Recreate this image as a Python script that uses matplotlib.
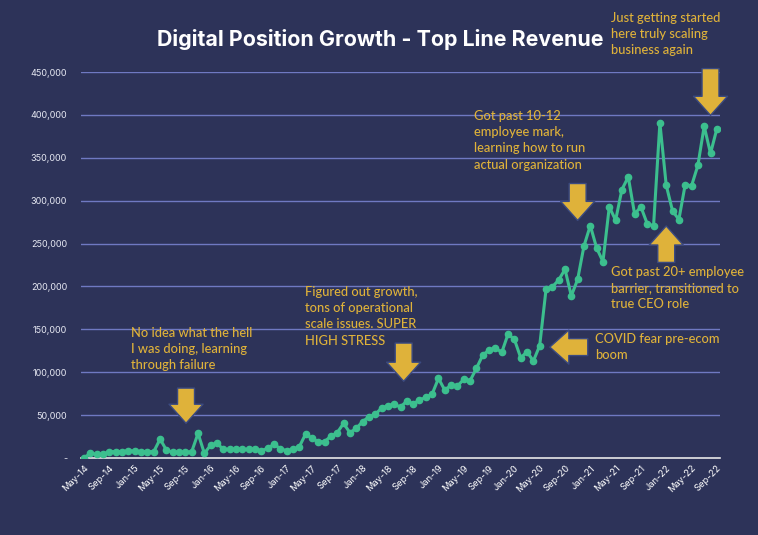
import matplotlib
matplotlib.use("Agg")
import matplotlib.pyplot as plt
from matplotlib.patches import FancyArrowPatch, ArrowStyle

# monthly top line revenue, May-14 .. Sep-22
revenue = [
    500, 5400, 4300, 4300, 7400, 7400, 7400, 8500, 8000, 7400,
    7400, 7400, 22000, 9300, 6600, 6600, 6600, 7400, 28700, 5400,
    15100, 17100, 10100, 10100, 10100, 10100, 10100, 10100, 8500, 11300,
    16000, 11000, 8500, 10000, 13000, 28000, 23000, 19000, 19000, 25600,
    29500, 40400, 29500, 34600, 42300, 48000, 51000, 58000, 61000, 62500,
    59500, 66400, 63000, 67600, 70700, 74500, 92800, 79200, 85000, 83900,
    91700, 90100, 104500, 120000, 125800, 128500, 123000, 144500, 138300, 116900,
    123900, 113000, 131000, 196500, 199600, 207400, 220000, 189000, 208200, 247200,
    271000, 244800, 229000, 292800, 277300, 313000, 327700, 284500, 292800, 273000,
    271000, 390600, 318000, 288000, 278000, 318800, 317300, 341000, 386800, 355000,
    383700,
]

tick_labels = [
    "May-14", "Sep-14", "Jan-15", "May-15", "Sep-15", "Jan-16", "May-16",
    "Sep-16", "Jan-17", "May-17", "Sep-17", "Jan-18", "May-18", "Sep-18",
    "Jan-19", "May-19", "Sep-19", "Jan-20", "May-20", "Sep-20", "Jan-21",
    "May-21", "Sep-21", "Jan-22", "May-22", "Sep-22",
]

y_ticks = [0, 50000, 100000, 150000, 200000, 250000, 300000, 350000, 400000, 450000]

bg = "#2d3359"
gold = "#dfb23a"
teal = "#3cbf8e"
grid_c = "#6f79c2"

W, H = 758, 535
fig = plt.figure(figsize=(W / 100, H / 100), dpi=100, facecolor=bg)
ax = fig.add_axes([81 / W, 1 - 458 / H, (720 - 81) / W, (458 - 72) / H])
ax.set_facecolor(bg)

x = list(range(len(revenue)))
ax.plot(x, revenue, color=teal, lw=2.2, marker="o", ms=4.5, zorder=3)

ax.set_xlim(-0.5, len(revenue) - 0.5)
ax.set_ylim(0, 450000)
ax.set_yticks(y_ticks)
ax.set_yticklabels(["-" if v == 0 else f"{v:,}" for v in y_ticks],
                   color="#e6e8f2", fontsize=6.5, family="Inter")
ax.set_xticks(range(0, len(revenue), 4))
ax.set_xticklabels(tick_labels, rotation=45, ha="right", rotation_mode="anchor",
                   color="white", fontsize=6.7, family="Inter")
ax.tick_params(length=0, pad=10)
ax.tick_params(axis="x", pad=4)

for v in y_ticks[1:]:
    ax.axhline(v, color=grid_c, lw=1, zorder=1)
for s in ["top", "right", "left"]:
    ax.spines[s].set_visible(False)
ax.spines["bottom"].set_color("#e8e8e8")
ax.spines["bottom"].set_linewidth(1.2)

fig.text(380 / W, 1 - 40 / H, "Digital Position Growth - Top Line Revenue",
         ha="center", va="center", color="white", fontsize=15.4,
         fontweight="bold", family="Inter")

# notes (pixel positions of top-left corner)
notes = [
    (131, 327, "No idea what the hell\nI was doing, learning\nthrough failure"),
    (305, 286, "Figured out growth,\ntons of operational\nscale issues. SUPER\nHIGH STRESS"),
    (474, 110, "Got past 10-12\nemployee mark,\nlearning how to run\nactual organization"),
    (611, 12, "Just getting started\nhere truly scaling\nbusiness again"),
    (611, 266, "Got past 20+ employee\nbarrier, transitioned to\ntrue CEO role"),
    (595, 333, "COVID fear pre-ecom\nboom"),
]
for px, py, txt in notes:
    fig.text(px / W, 1 - py / H, txt, ha="left", va="top", color=gold,
             fontsize=9.3, family="Lato", fontweight="medium", linespacing=1.42)

# block arrows: (x_from, y_from, x_to, y_to) in data units
arrows = [
    (16.1, 81500, 16.1, 40500),
    (50.5, 134000, 50.5, 89500),
    (78.0, 320000, 78.0, 277000),
    (99.0, 454000, 99.0, 399500),
    (92.0, 228000, 92.0, 270500),
    (79.6, 129300, 73.6, 129300),
]
style = ArrowStyle.Simple(head_length=13.7, head_width=24.5, tail_width=12.2)
for x0, y0, x1, y1 in arrows:
    ax.add_patch(FancyArrowPatch((x0, y0), (x1, y1), arrowstyle=style,
                                 mutation_scale=1, shrinkA=0, shrinkB=0,
                                 fc=gold, ec="#3b4a80", lw=1, zorder=4,
                                 clip_on=False))

fig.savefig("out.png", dpi=100, facecolor=bg)
